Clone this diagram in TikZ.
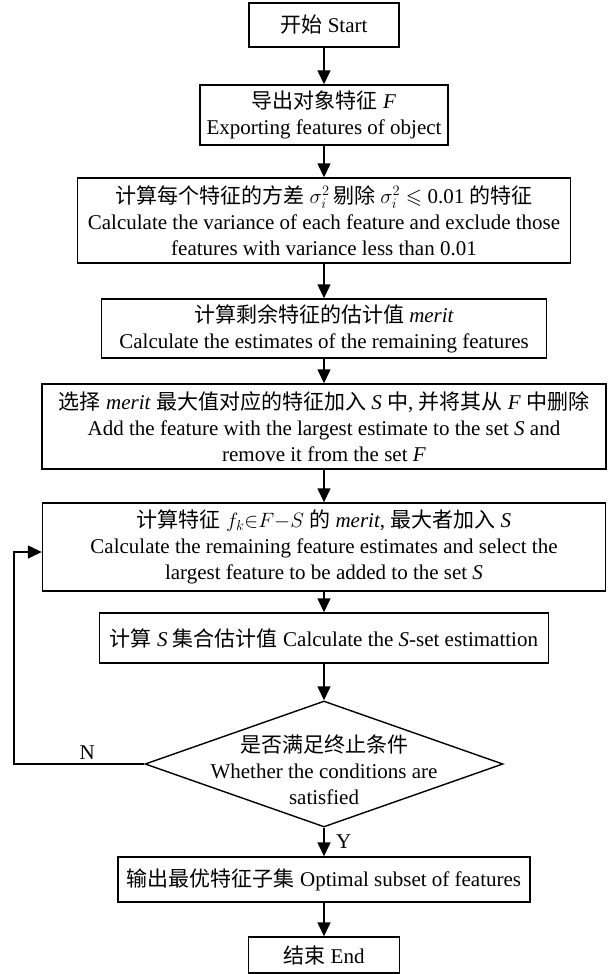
\documentclass[tikz,border=0pt]{standalone}
\usepackage{fontspec}
\usepackage{amssymb}
\setmainfont{Liberation Serif}
\newfontfamily\zhfont{Noto Sans CJK SC}
\newcommand{\zh}[1]{{\zhfont #1}}
\usetikzlibrary{arrows.meta,shapes.geometric}

\begin{document}
\begin{tikzpicture}[x=1pt,y=-1pt,line width=1.4pt,font=\fontsize{21}{26}\selectfont,
	box/.style={draw,align=center,inner sep=2pt},
	arr/.style={-{Triangle[length=14pt,width=13pt]}}]
	\useasboundingbox (0,0) rectangle (610,974);
	\node[box,minimum width=150,minimum height=44] (start) at (324,25) {\zh{开始} Start};
	\node[box,minimum width=248,minimum height=60] (exp) at (324,115) {\zh{导出对象特征} \textit{F}\\Exporting features of object};
	\node[box,minimum width=493,minimum height=85] (var) at (324,220.5) {\zh{计算每个特征的方差} $\sigma_i^2$\,\zh{剔除} $\sigma_i^2\leqslant$ 0.01 \zh{的特征}\\Calculate the variance of each feature and exclude those\\features with variance less than 0.01};
	\node[box,minimum width=445,minimum height=59] (est) at (324,328.5) {\zh{计算剩余特征的估计值} \textit{merit}\\Calculate the estimates of the remaining features};
	\node[box,minimum width=564,minimum height=85] (sel) at (324,426.5) {\zh{选择} \textit{merit} \zh{最大值对应的特征加入} \textit{S} \zh{中}, \zh{并将其从} \textit{F} \zh{中删除}\\Add the feature with the largest estimate to the set \textit{S} and\\remove it from the set \textit{F}};
	\node[box,minimum width=563,minimum height=88] (calc) at (324,547) {\zh{计算特征} $f_k{\in}F{-}S$ \zh{的} \textit{merit}, \zh{最大者加入} \textit{S}\\Calculate the remaining feature estimates and select the\\largest feature to be added to the set \textit{S}};
	\node[box,minimum width=449,minimum height=50] (sset) at (324,638) {\zh{计算} \textit{S} \zh{集合估计值} Calculate the \textit{S}-set estimattion};
	\node[draw,diamond,inner sep=0pt,minimum width=358,minimum height=126] (cond) at (324,764) {};
	\node[align=center] (condtxt) at ([yshift=-6pt]cond.center) {\zh{是否满足终止条件}\\Whether the conditions are\\satisfied};
	\node[box,minimum width=412,minimum height=45] (out) at (324,879.5) {\zh{输出最优特征子集} Optimal subset of features};
	\node[box,minimum width=151,minimum height=36] (end) at (324,955) {\zh{结束} End};
	\coordinate (back) at (14,764);
	\foreach \a/\b in {start/exp,exp/var,var/est,est/sel,sel/calc,calc/sset,sset/cond,out/end}{
		\draw[arr] (\a.south) -- (\b.north);
	}
	\draw[arr] (cond.south) -- node[right=8pt]{Y} (out.north);
	\draw[arr] (cond.west) -- node[above,xshift=8pt]{N} (back) |- ([yshift=-5pt]calc.west);
\end{tikzpicture}
\end{document}
